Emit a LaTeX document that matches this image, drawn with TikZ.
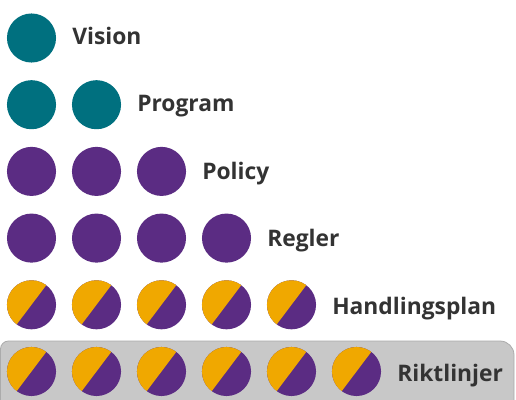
\documentclass[tikz,border=0pt]{standalone}
\usepackage{fontspec}
\setmainfont{Open Sans}
\usetikzlibrary{calc}
\definecolor{stepTeal}{HTML}{00707F}
\definecolor{stepPurple}{HTML}{5B2C83}
\definecolor{stepYellow}{HTML}{F0A800}
\definecolor{stepText}{HTML}{333333}
\definecolor{bandFill}{HTML}{C8C8C8}
\definecolor{bandLine}{HTML}{ABABAB}

\begin{document}
\begin{tikzpicture}[x=0.75pt, y=0.75pt,
          dot/.style={circle, inner sep=0pt, minimum size=36.8pt},
          dotTeal/.style={dot, fill=stepTeal},
          dotPurple/.style={dot, fill=stepPurple},
          dotSplit/.style={dot, fill=stepPurple, path picture={\fill[stepYellow, shift={(path picture bounding box.center)}] (53:30pt) -- (143:42pt) -- (233:30pt) -- cycle;}},
          tier/.style={anchor=base west, inner sep=0pt, font=\fontsize{17.1}{20}\selectfont\bfseries, text=stepText}
        ]
          \useasboundingbox (0,0) rectangle (516,-399);
          % grey band behind the last row
          \draw[fill=bandFill, draw=bandLine, line width=0.6pt] (0.5,-420) -- (0.5,-349) arc[start angle=180, end angle=90, radius=8] -- (500,-341) arc[start angle=90, end angle=0, radius=14] -- (514,-420);
          \foreach \lbl/\kind [count=\r] in {Vision/dotTeal, Program/dotTeal, Policy/dotPurple, Regler/dotPurple, Handlingsplan/dotSplit, Riktlinjer/dotSplit} {
            \foreach \c in {1,...,\r}
              \node[\kind] (d\r-\c) at ({31.5+65*(\c-1)}, {-38-66.7*(\r-1)}) {};
            \node[tier] (t\r) at ({72+65*(\r-1)}, {-44.3-67.5*(\r-1)}) {\lbl};
          }
        \end{tikzpicture}
\end{document}
